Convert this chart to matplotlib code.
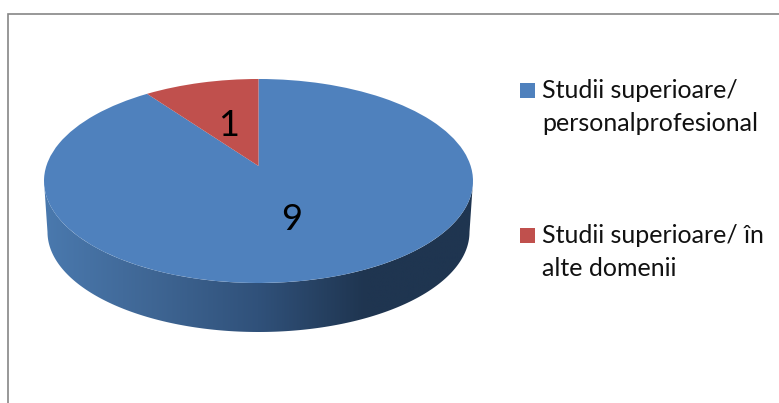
#!/usr/bin/env python3
"""Tilted 3D style pie chart, drawn on a pixel sized axes."""

import matplotlib
matplotlib.use("Agg")
import matplotlib.pyplot as plt
from matplotlib.colors import LinearSegmentedColormap
from matplotlib.patches import Polygon, Rectangle
from matplotlib.transforms import Transform
import numpy as np

plt.rcParams["font.family"] = ["Lato", "DejaVu Sans"]

CATEGORIES = ["Studii superioare/\npersonalprofesional", "Studii superioare/ în\nalte domenii"]
VALUES = [9, 1]
COLORS = ["#4f81bd", "#c0504d"]

W, H = 779, 403
CX = 258.5
RX = 214.5
K = 0.147      # perspective strength
A, B = -75.4, 166.0   # vertical mapping, B is the pie apex


class Tilt(Transform):
    """Projects the flat unit pie to the tilted disc, output in pixels."""
    input_dims = output_dims = 2
    has_inverse = False

    def transform_non_affine(self, xy):
        xy = np.asarray(xy)
        x, y = xy[:, 0], xy[:, 1]
        d = 1 + K * y
        sx = RX * np.sqrt(1 - K ** 2)
        return np.column_stack([CX + sx * x / d, (A * y + B) / d])


fig = plt.figure(figsize=(W / 100, H / 100), dpi=100)
ax = fig.add_axes([0, 0, 1, 1])

wedges, _ = ax.pie(VALUES, colors=COLORS, startangle=90, counterclock=False,
                   wedgeprops={"linewidth": 0, "antialiased": True})
for w in wedges:
    w.set_transform(Tilt() + ax.transData)
    w.set_zorder(3)

# side wall of the disc
t = np.linspace(np.pi, 0, 200)
top_x = CX + RX * np.cos(t)
top_y = 181 + 102 * np.sin(t)
low_x = CX + 211 * np.cos(t)
low_y = 232 + 100 * np.sin(t)
side_pts = np.vstack([np.column_stack([top_x, top_y]),
                      np.column_stack([low_x, low_y])[::-1]])
side = Polygon(side_pts, closed=True, facecolor="none", edgecolor="none",
               transform=ax.transData)
ax.add_patch(side)
side_cmap = LinearSegmentedColormap.from_list(
    "side", [(0, "#4a79ae"), (0.25, "#3f6694"), (0.5, "#30517a"),
             (0.75, "#1f3550"), (1, "#1f3550")])
im = ax.imshow(np.linspace(0, 1, 256)[None, :], cmap=side_cmap, aspect="auto",
               extent=(44, 473, 340, 175), zorder=2)
im.set_clip_path(side)

ax.set_aspect("auto")
ax.set_xlim(0, W)
ax.set_ylim(H, 0)
ax.axis("off")

# chart frame, cut by the image on the right and at the bottom
ax.plot([8.5, 8.5, W], [H, 13.5, 13.5], color="#868686", lw=1.2,
        solid_joinstyle="miter", zorder=1)

# data labels
ax.text(292, 219, str(VALUES[0]), fontsize=26, color="black", ha="center", va="center", zorder=4)
ax.text(229, 125, str(VALUES[1]), fontsize=26, color="black", ha="center", va="center", zorder=4)

# legend
for y, label, color in zip([83, 228], CATEGORIES, COLORS):
    ax.add_patch(Rectangle((520, y), 15, 15, facecolor=color, edgecolor="none"))
    ax.text(542, y + 24, label, fontsize=18, color="#111111", ha="left", va="center",
            linespacing=1.5)

fig.savefig("out.png", dpi=100)
